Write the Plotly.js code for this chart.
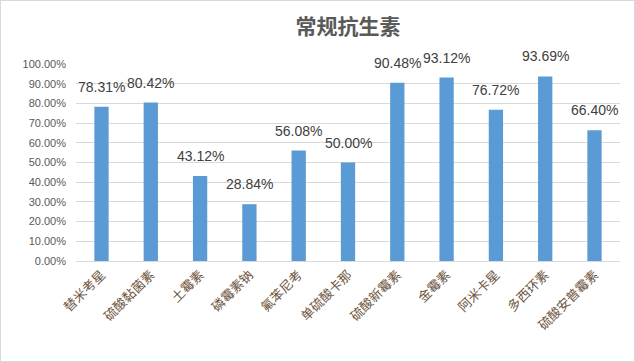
<!DOCTYPE html>
<html>
<head>
<meta charset="utf-8">
<script src="https://cdn.plot.ly/plotly-3.0.1.min.js"></script>
<style>
html,body{margin:0;padding:0;background:#fff;}
#chart{width:633px;height:360px;border:1px solid #d9d9d9;}
</style>
</head>
<body>
<div id="chart"></div>
<script>
const categories = ["替米考星","硫酸黏菌素","土霉素","磷霉素钠","氟苯尼考","单硫酸卡那","硫酸新霉素","金霉素","阿米卡星","多西环素","硫酸安普霉素"];
const values = [0.7831,0.8042,0.4312,0.2884,0.5608,0.5000,0.9048,0.9312,0.7672,0.9369,0.6640];
const valueLabels = ["78.31%","80.42%","43.12%","28.84%","56.08%","50.00%","90.48%","93.12%","76.72%","93.69%","66.40%"];
const tickVals = [0,0.1,0.2,0.3,0.4,0.5,0.6,0.7,0.8,0.9,1.0];
const tickText = ["0.00%","10.00%","20.00%","30.00%","40.00%","50.00%","60.00%","70.00%","80.00%","90.00%","100.00%"];

const trace = {
  type: "bar",
  x: categories,
  y: values,
  marker: {color: "#5b9bd5"},
  hoverinfo: "skip"
};

const annotations = categories.map((c, i) => ({
  x: c, y: values[i], xref: "x", yref: "y",
  text: valueLabels[i], showarrow: false,
  yshift: 20,
  font: {family: "Liberation Sans, Arial, sans-serif", size: 14, color: "#404040"}
}));

const layout = {
  width: 633, height: 360,
  margin: {l: 75, r: 14, t: 63, b: 100},
  paper_bgcolor: "#fff", plot_bgcolor: "#fff",
  bargap: 0.71,
  showlegend: false,
  title: {
    text: "<b>常规抗生素</b>",
    x: 0.5, xref: "paper", xanchor: "center",
    y: 0.95, yref: "container",
    font: {family: "Noto Sans CJK SC, sans-serif", size: 21, color: "#595959"}
  },
  xaxis: {
    type: "category",
    tickangle: -45,
    showgrid: false,
    showline: true, linecolor: "#d9d9d9", linewidth: 1,
    ticks: "",
    tickfont: {family: "Noto Sans CJK SC, sans-serif", size: 13, color: "#6e5640"}
  },
  yaxis: {
    range: [0, 1],
    tickvals: tickVals, ticktext: tickText,
    showgrid: true, gridcolor: "#d9d9d9", gridwidth: 1,
    zeroline: false, showline: false,
    ticks: "", ticklabelstandoff: 9,
    tickfont: {family: "Liberation Sans, Arial, sans-serif", size: 11, color: "#595959"}
  },
  annotations: annotations
};

Plotly.newPlot("chart", [trace], layout, {displayModeBar: false, staticPlot: true});
</script>
</body>
</html>
